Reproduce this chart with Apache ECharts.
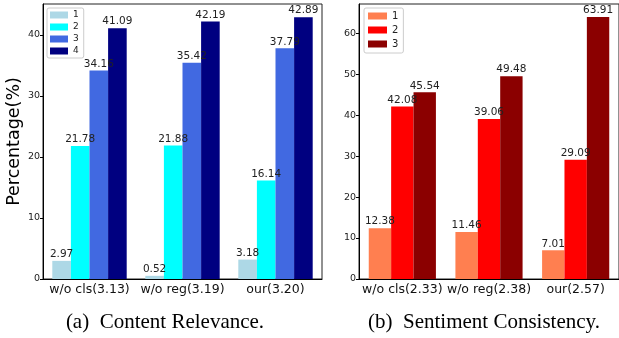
<!DOCTYPE html>
<html>
<head>
<meta charset="utf-8">
<script src="https://cdn.jsdelivr.net/npm/echarts@6/dist/echarts.min.js"></script>
<style>html,body{margin:0;padding:0;background:#fff}#c{width:619px;height:338px}</style>
</head>
<body>
<div id="c"></div>
<script>
// Data
var catsA = ['w/o cls(3.13)', 'w/o reg(3.19)', 'our(3.20)'];
var a1 = [2.97, 0.52, 3.18];
var a2 = [21.78, 21.88, 16.14];
var a3 = [34.16, 35.42, 37.79];
var a4 = [41.09, 42.19, 42.89];
var catsB = ['w/o cls(2.33)', 'w/o reg(2.38)', 'our(2.57)'];
var b1 = [12.38, 11.46, 7.01];
var b2 = [42.08, 39.06, 29.09];
var b3 = [45.54, 49.48, 63.91];
var yTicksA = [0, 10, 20, 30, 40];
var yTicksB = [0, 10, 20, 30, 40, 50, 60];
var legendA = ['1', '2', '3', '4'];
var legendB = ['1', '2', '3'];
var captionA = '(a)  Content Relevance.';
var captionB = '(b)  Sentiment Consistency.';

var colorsA = ['#ADD8E6', '#00FFFF', '#4169E1', '#000080'];
var colorsB = ['#FF7F50', '#FF0000', '#8B0000'];
var FF = 'DejaVu Sans';

function yAxis(idx, max, ticks, withName) {
  var ax = {
    type: 'value', gridIndex: idx, min: 0, max: max,
    axisLine: {show: true, lineStyle: {color: '#000', width: 1}},
    axisTick: {show: true, length: 3, lineStyle: {color: '#000'}, customValues: ticks},
    axisLabel: {fontFamily: FF, fontSize: 9.5, color: '#222', margin: 3, customValues: ticks},
    splitLine: {show: false}
  };
  if (withName) {
    ax.name = 'Percentage(%)';
    ax.nameLocation = 'middle';
    ax.nameRotate = 90;
    ax.nameGap = 20;
    ax.nameTextStyle = {fontFamily: FF, fontSize: 17.5, color: '#000'};
  }
  return ax;
}
function xAxis(idx, cats) {
  return {
    type: 'category', gridIndex: idx, data: cats,
    axisLine: {show: true, lineStyle: {color: '#000', width: 1}},
    axisTick: {show: false},
    axisLabel: {fontFamily: FF, fontSize: 12.5, color: '#111', margin: 4, interval: 0}
  };
}
function barSeries(name, data, color, axisIdx, gap) {
  return {
    type: 'bar', name: name, data: data, xAxisIndex: axisIdx, yAxisIndex: axisIdx,
    barGap: '0%', barCategoryGap: gap,
    itemStyle: {color: color},
    label: {show: true, position: 'top', distance: 1, fontFamily: FF, fontSize: 10.5, color: '#222'}
  };
}

var seriesA = [a1, a2, a3, a4];
var seriesB = [b1, b2, b3];
var series = [];
seriesA.forEach(function (d, i) { series.push(barSeries('a' + legendA[i], d, colorsA[i], 0, '20%')); });
seriesB.forEach(function (d, i) { series.push(barSeries('b' + legendB[i], d, colorsB[i], 1, '22.5%')); });

var chart = echarts.init(document.getElementById('c'), null, {renderer: 'canvas'});
chart.setOption({
  animation: false,
  backgroundColor: '#fff',
  grid: [
    {left: 43, top: 4, width: 279, height: 275, show: true, borderColor: '#222', borderWidth: 1, backgroundColor: 'transparent'},
    {left: 359, top: 4, width: 263, height: 275, show: true, borderColor: '#222', borderWidth: 1, backgroundColor: 'transparent'}
  ],
  xAxis: [xAxis(0, catsA), xAxis(1, catsB)],
  yAxis: [yAxis(0, 45.05, yTicksA, true), yAxis(1, 67.1, yTicksB, false)],
  legend: [
    {
      data: legendA.map(function (n) { return 'a' + n; }),
      formatter: function (n) { return n.slice(1); },
      orient: 'vertical', left: 47, top: 8, icon: 'rect',
      itemWidth: 18, itemHeight: 7, itemGap: 3, itemTextGap: 5,
      padding: [2.5, 5, 2.5, 3],
      backgroundColor: '#fff', borderColor: '#ccc', borderWidth: 1, borderRadius: 2,
      textStyle: {fontFamily: FF, fontSize: 9, lineHeight: 9, color: '#222'}
    },
    {
      data: legendB.map(function (n) { return 'b' + n; }),
      formatter: function (n) { return n.slice(1); },
      orient: 'vertical', left: 364, top: 8, icon: 'rect',
      itemWidth: 19, itemHeight: 7, itemGap: 4, itemTextGap: 7,
      padding: [3, 5, 4, 4],
      backgroundColor: '#fff', borderColor: '#ccc', borderWidth: 1, borderRadius: 2,
      textStyle: {fontFamily: FF, fontSize: 10, lineHeight: 10, color: '#222'}
    }
  ],
  graphic: [
    {type: 'text', x: 165, y: 322, style: {text: captionA, fontFamily: 'Liberation Serif', fontSize: 21, fill: '#000', align: 'center', verticalAlign: 'middle'}},
    {type: 'text', x: 484, y: 322, style: {text: captionB, fontFamily: 'Liberation Serif', fontSize: 21, fill: '#000', align: 'center', verticalAlign: 'middle'}}
  ],
  series: series
});
</script>
</body>
</html>
